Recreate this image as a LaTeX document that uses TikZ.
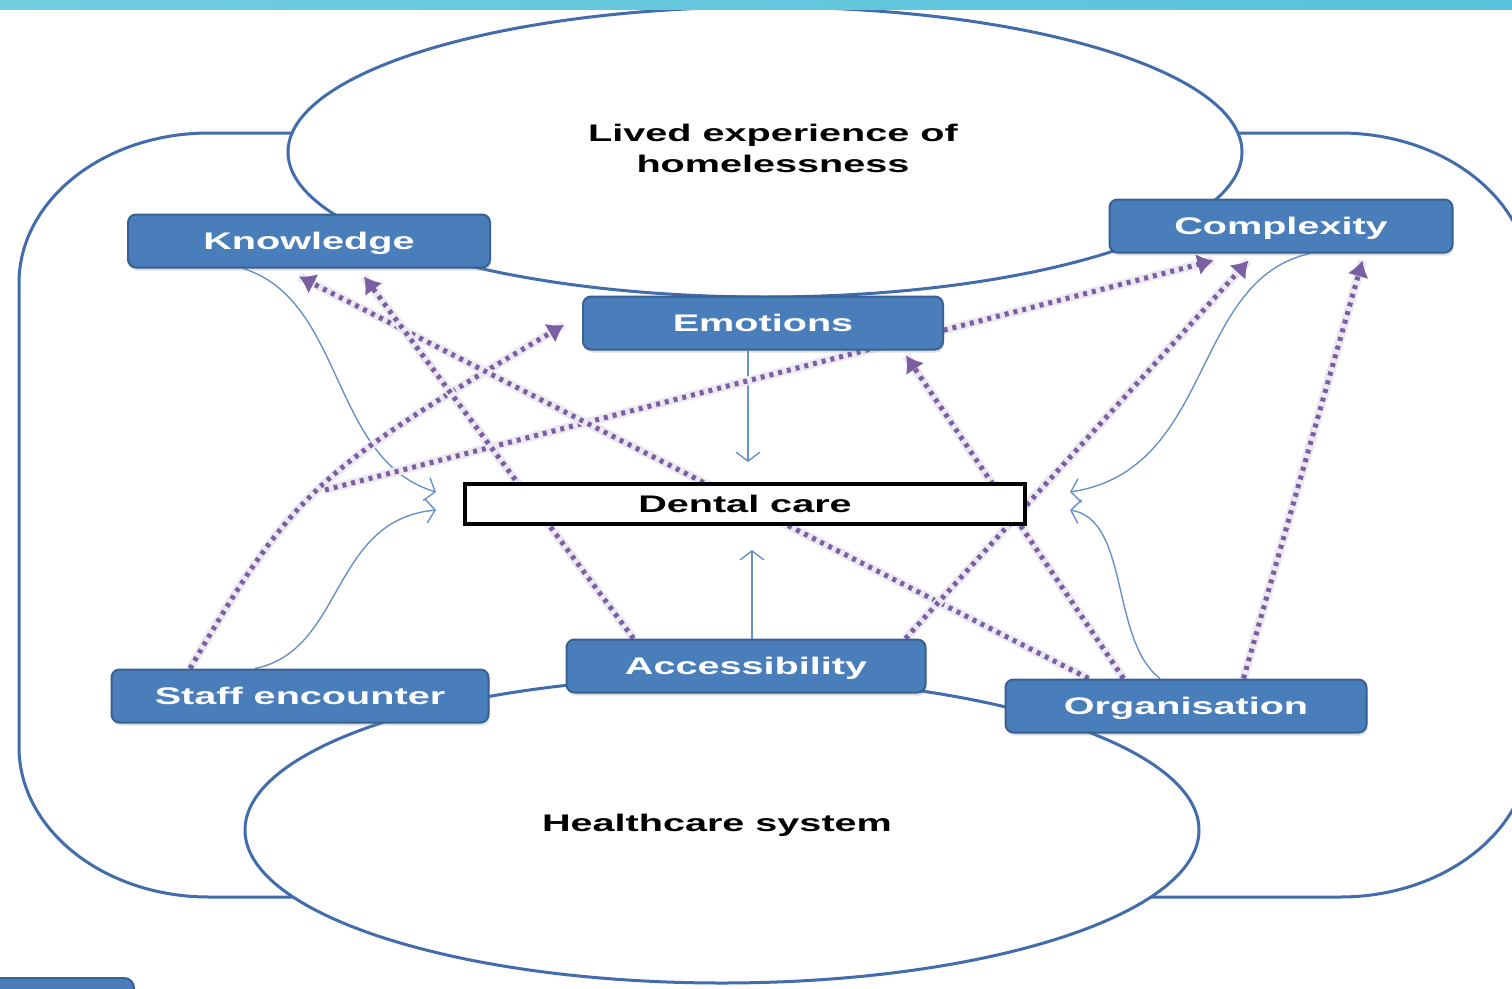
\documentclass[tikz,border=0pt]{standalone}
\usepackage{fontspec}
\setmainfont{Liberation Sans}
\usepackage{tikz}
\usetikzlibrary{arrows.meta,shadows}

\definecolor{boxblue}{RGB}{74,126,187}
\definecolor{boxedge}{RGB}{56,96,146}
\definecolor{ringblue}{RGB}{66,108,170}
\definecolor{linkblue}{RGB}{105,145,198}
\definecolor{dotpurple}{RGB}{122,96,162}
\definecolor{barcyan}{RGB}{88,195,218}

\newcommand{\wide}[1]{\scalebox{1.65}[1]{#1}}

\pgfdeclarelayer{frame}
\pgfdeclarelayer{wires}
\pgfsetlayers{frame,wires,main}

\tikzset{
	factor/.style={draw=boxedge, line width=2pt, fill=boxblue, rounded corners=8pt, text=white,
		font=\bfseries\fontsize{24}{29}\selectfont, minimum height=53pt, inner sep=0pt, text depth=0pt,
		drop shadow={shadow xshift=1pt, shadow yshift=-3pt, opacity=0.25}},
	care/.style={draw=black, line width=4pt, fill=white, font=\bfseries\fontsize{24}{29}\selectfont,
		minimum width=560pt, minimum height=40pt, inner sep=0pt, text depth=0pt},
	title/.style={font=\bfseries\fontsize{24}{31}\selectfont, align=center},
	ring/.style={draw=ringblue, line width=3pt},
	link/.style={draw=linkblue, line width=1.4pt, -{Straight Barb[length=9pt, width=24pt]}},
	influence/.style={draw=dotpurple, line width=5pt, dash pattern=on 4pt off 5pt,
		preaction={draw=dotpurple!14, line width=9pt, solid, arrows=-},
		-{Latex[length=16pt, width=22pt]}},
}

\begin{document}
\begin{tikzpicture}[x=1pt, y=-1pt]
\useasboundingbox (0,0) rectangle (1512,988);
\clip (0,0) rectangle (1512,988);

\begin{pgfonlayer}{frame}
	\fill[white] (0,0) rectangle (1512,988);
	\draw[ring] (209,133) -- (1340,133) arc[start angle=-90, end angle=0, x radius=190, y radius=150]
		-- (1530,747) arc[start angle=0, end angle=90, x radius=190, y radius=150]
		-- (209,897) arc[start angle=90, end angle=180, x radius=190, y radius=150]
		-- (19,283) arc[start angle=180, end angle=270, x radius=190, y radius=150] -- cycle;
	\filldraw[ring, fill=white] (765,152) ellipse [x radius=477, y radius=145];
	\filldraw[ring, fill=white] (722,830) ellipse [x radius=477, y radius=153];
	\filldraw[fill=boxblue, draw=boxedge, line width=2pt, rounded corners=10pt] (-20,978) rectangle (134,1020);
\end{pgfonlayer}

\node[title] (lived) at (773,148) {\wide{Lived experience of}\\\wide{homelessness}};
\node[title] (health) at (717,825) {\wide{Healthcare system}};

\node[factor, minimum width=362pt] (know) at (309,241) {\wide{Knowledge}};
\node[factor, minimum width=343pt] (comp) at (1281,226) {\wide{Complexity}};
\node[factor, minimum width=360pt] (emo) at (763,323) {\wide{Emotions}};
\node[factor, minimum width=377pt] (staff) at (300,696) {\wide{Staff encounter}};
\node[factor, minimum width=359pt] (access) at (746,666) {\wide{Accessibility}};
\node[factor, minimum width=361pt] (org) at (1186,706) {\wide{Organisation}};
\node[care] (dental) at (745,504) {\wide{Dental care}};

\coordinate (loose) at (325,490);

\begin{pgfonlayer}{wires}
	\draw[link] ([xshift=-66pt]know.south) .. controls (345,300) and (330,460) .. ([shift={(-27,-12)}]dental.west);
	\draw[link] ([xshift=-45pt]staff.north) .. controls (345,650) and (330,520) .. ([shift={(-27,6)}]dental.west);
	\draw[link] ([xshift=29pt]comp.south) .. controls (1190,280) and (1215,470) .. ([shift={(43,-12)}]dental.east);
	\draw[link] ([xshift=-26pt]org.north) .. controls (1110,640) and (1130,520) .. ([shift={(43,6)}]dental.east);
	\draw[link, shorten >=20pt] ([xshift=-15pt]emo.south) -- ([xshift=-15pt]emo.south |- dental.north);
	\draw[link, shorten >=24pt] ([xshift=6pt]access.north) -- ([xshift=6pt]access.north |- dental.south);

	\draw[influence] ([xshift=-110pt]staff.north) .. controls (293,492) and (315,471) .. ([shift={(-18,2)}]emo.west);
	\draw[influence] (loose) -- ([shift={(105,7)}]comp.south west);
	\draw[influence] ([xshift=84pt]org.north west) -- ([shift={(172,8)}]know.south west);
	\draw[influence] ([xshift=68pt]access.north west) -- ([shift={(237,8)}]know.south west);
	\draw[influence] ([xshift=-21pt]access.north east) -- ([shift={(140,7)}]comp.south west);
	\draw[influence] ([xshift=119pt]org.north west) -- ([shift={(-38,5)}]emo.south east);
	\draw[influence] ([xshift=239pt]org.north west) -- ([shift={(-91,7)}]comp.south east);
\end{pgfonlayer}

\fill[left color=barcyan!85!white, right color=barcyan] (0,0) rectangle (1512,9);
\end{tikzpicture}
\end{document}
